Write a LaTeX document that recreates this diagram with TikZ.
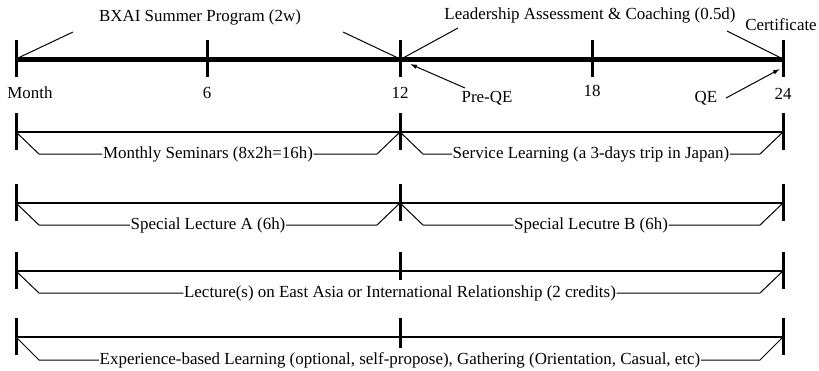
\documentclass[tikz,border=0pt]{standalone}
\usepackage{fontspec}
\setmainfont{Liberation Serif}
\usetikzlibrary{arrows.meta,calc}
\begin{document}
\begin{tikzpicture}[x=1bp,y=-1bp,
  lbl/.style={font=\fontsize{17}{20}\selectfont, inner sep=0.5pt},
  axis/.style={line width=5bp},
  tickmark/.style={line width=3bp},
  rowline/.style={line width=1.8bp},
  thinline/.style={line width=1bp},
  pointer/.style={line width=1bp,-{Latex[length=7bp,width=4.5bp]}}]
\useasboundingbox (0,0) rectangle (819,370);

% ---------- main timeline ----------
\coordinate (m0) at (16,59);
\coordinate (m6) at (207,59);
\coordinate (m12) at (400,59);
\coordinate (m18) at (592,59);
\coordinate (m24) at (783,59);
\draw[axis] (m0) -- (m24);
\foreach \c in {m0,m6,m12,m18,m24}
  \draw[tickmark] ($(\c)+(0,-19)$) -- ($(\c)+(0,18)$);

\node[lbl] (lmonth) at (30,93) {Month};
\node[lbl] (l6) at (207,93) {6};
\node[lbl] (l12) at (400,93) {12};
\node[lbl] (l18) at (592,91) {18};
\node[lbl] (l24) at (783,94) {24};

\node[lbl] (bxai) at (200,17) {BXAI Summer Program (2w)};
\coordinate (bxl) at (73,32);
\coordinate (bxr) at (343,32);
\draw[thinline] (bxl) -- ($(m0)+(2,-1)$);
\draw[thinline] (bxr) -- ($(m12)+(-2,-1)$);

\node[lbl] (lead) at (590,15) {Leadership Assessment \& Coaching (0.5d)};
\coordinate (ldl) at (458,28);
\coordinate (ldr) at (727,31);
\draw[thinline] (ldl) -- ($(m12)+(3,-1)$);
\draw[thinline] (ldr) -- ($(m24)+(-2,-1)$);

\node[lbl] (cert) at (781,25) {Certificate};

\node[lbl] (preqe) at (487,98) {Pre-QE};
\coordinate (pqs) at (465,88);
\draw[pointer] (pqs) -- ($(m12)+(10,5)$);

\node[lbl] (qe) at (706,98) {QE};
\coordinate (qes) at (726,98);
\draw[pointer] (qes) -- ($(m24)+(-3,10)$);

% ---------- row 1 ----------
\coordinate (a0) at (16,132);
\coordinate (a12) at (400,132);
\coordinate (a24) at (783,132);
\draw[rowline] (a0) -- (a24);
\foreach \c in {a0,a12,a24}
  \draw[tickmark] ($(\c)+(0,-19)$) -- ($(\c)+(0,18)$);
\node[lbl] (s1) at (208,154) {Monthly Seminars (8x2h=16h)};
\draw[thinline] (a0) -- ++(23,22) -- (s1.west);
\draw[thinline] (s1.east) -- ($(a12)+(-23,22)$) -- (a12);
\node[lbl] (s2) at (591,154) {Service Learning (a 3-days trip in Japan)};
\draw[thinline] (a12) -- ++(23,22) -- (s2.west);
\draw[thinline] (s2.east) -- ($(a24)+(-23,22)$) -- (a24);

% ---------- row 2 ----------
\coordinate (b0) at (16,203);
\coordinate (b12) at (400,203);
\coordinate (b24) at (783,203);
\draw[rowline] (b0) -- (b24);
\foreach \c in {b0,b12,b24}
  \draw[tickmark] ($(\c)+(0,-19)$) -- ($(\c)+(0,18)$);
\node[lbl] (s3) at (208,225) {Special Lecture A (6h)};
\draw[thinline] (b0) -- ++(23,22) -- (s3.west);
\draw[thinline] (s3.east) -- ($(b12)+(-23,22)$) -- (b12);
\node[lbl] (s4) at (591,225) {Special Lecutre B (6h)};
\draw[thinline] (b12) -- ++(23,22) -- (s4.west);
\draw[thinline] (s4.east) -- ($(b24)+(-23,22)$) -- (b24);

% ---------- row 3 ----------
\coordinate (c0) at (16,271);
\coordinate (c12) at (400,271);
\coordinate (c24) at (783,271);
\draw[rowline] (c0) -- (c24);
\foreach \c in {c0,c24}
  \draw[tickmark] ($(\c)+(0,-19)$) -- ($(\c)+(0,18)$);
\draw[tickmark] ($(c12)+(0,-19)$) -- ($(c12)+(0,9)$);
\node[lbl] (s5) at (400,293) {Lecture(s) on East Asia or International Relationship (2 credits)};
\draw[thinline] (c0) -- ++(23,22) -- (s5.west);
\draw[thinline] (s5.east) -- ($(c24)+(-23,22)$) -- (c24);

% ---------- row 4 ----------
\coordinate (d0) at (16,337);
\coordinate (d12) at (400,337);
\coordinate (d24) at (783,337);
\draw[rowline] (d0) -- (d24);
\foreach \c in {d0,d24}
  \draw[tickmark] ($(\c)+(0,-19)$) -- ($(\c)+(0,18)$);
\draw[tickmark] ($(d12)+(0,-19)$) -- ($(d12)+(0,11)$);
\node[lbl] (s6) at (400,360) {Experience-based Learning (optional, self-propose), Gathering (Orientation, Casual, etc)};
\draw[thinline] (d0) -- ++(23,23) -- (s6.west);
\draw[thinline] (s6.east) -- ($(d24)+(-23,23)$) -- (d24);
\end{tikzpicture}
\end{document}
